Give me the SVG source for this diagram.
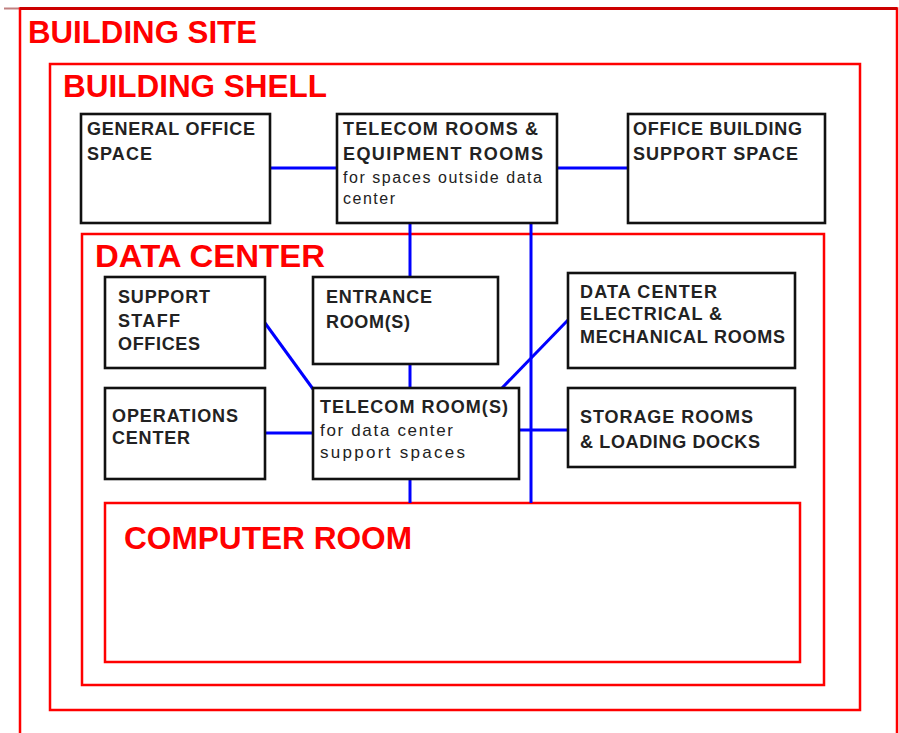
<svg xmlns="http://www.w3.org/2000/svg" width="899" height="733" viewBox="0 0 899 733">
<style>
.zone{fill:none;stroke:#ff0000;stroke-width:2.5}
.ztitle{font-family:"Liberation Sans",Arial,sans-serif;font-weight:bold;font-size:31px;fill:#ff0000}
.box{fill:#fff;stroke:#111;stroke-width:2.6}
.t{font-family:"Liberation Sans",Arial,sans-serif;font-weight:bold;font-size:18px;fill:#222}
.s{font-family:"Liberation Sans",Arial,sans-serif;font-size:16px;fill:#222}
.c{stroke:#0000ff;stroke-width:3;fill:none}
</style>
<rect width="899" height="733" fill="#fff"/>
<g id="building-site">
<line x1="4" y1="8.5" x2="20" y2="8.5" stroke="#c08080" stroke-width="2"/>
<path d="M20,740 V8.5 H897 V740" fill="none" stroke="#ff0000" stroke-width="2.5"/>
<line x1="20" y1="8.5" x2="897" y2="8.5" stroke="#cc0000" stroke-width="3"/>
<text class="ztitle" x="28" y="43" textLength="229" lengthAdjust="spacingAndGlyphs">BUILDING SITE</text>
</g>
<g id="building-shell">
<rect class="zone" x="50" y="64" width="810" height="646"/>
<text class="ztitle" x="63" y="97" textLength="264" lengthAdjust="spacingAndGlyphs">BUILDING SHELL</text>
</g>
<g id="data-center">
<rect class="zone" x="82" y="234" width="742" height="451"/>
<text class="ztitle" x="95" y="267" textLength="230" lengthAdjust="spacingAndGlyphs">DATA CENTER</text>
</g>
<g id="computer-room">
<rect class="zone" x="105" y="503" width="695" height="159"/>
<text class="ztitle" x="124" y="549" textLength="288" lengthAdjust="spacingAndGlyphs">COMPUTER ROOM</text>
</g>
<g id="connectors">
<line class="c" x1="270" y1="168" x2="337" y2="168"/>
<line class="c" x1="557" y1="168" x2="628" y2="168"/>
<line class="c" x1="410" y1="223" x2="410" y2="277"/>
<line class="c" x1="531" y1="223" x2="531" y2="503"/>
<line class="c" x1="265" y1="323" x2="313" y2="389"/>
<line class="c" x1="410" y1="364" x2="410" y2="388"/>
<line class="c" x1="568" y1="320" x2="502" y2="388"/>
<line class="c" x1="265" y1="433" x2="313" y2="433" stroke-width="4"/>
<line class="c" x1="519" y1="430" x2="568" y2="430"/>
<line class="c" x1="410" y1="479" x2="410" y2="503"/>
</g>
<g id="general-office-space">
<rect class="box" x="81" y="114" width="189" height="109"/>
<text class="t" x="87" y="135" textLength="168" lengthAdjust="spacing">GENERAL OFFICE</text>
<text class="t" x="87" y="160" textLength="65" lengthAdjust="spacing">SPACE</text>
</g>
<g id="telecom-rooms-equipment-rooms">
<rect class="box" x="337" y="114" width="220" height="109"/>
<text class="t" x="343" y="135" textLength="195" lengthAdjust="spacing">TELECOM ROOMS &amp;</text>
<text class="t" x="343" y="160" textLength="200" lengthAdjust="spacing">EQUIPMENT ROOMS</text>
<text class="s" x="343" y="183" textLength="199" lengthAdjust="spacing">for spaces outside data</text>
<text class="s" x="343" y="204" textLength="52" lengthAdjust="spacing">center</text>
</g>
<g id="office-building-support-space">
<rect class="box" x="628" y="114" width="197" height="109"/>
<text class="t" x="633" y="135" textLength="169" lengthAdjust="spacing">OFFICE BUILDING</text>
<text class="t" x="633" y="160" textLength="165" lengthAdjust="spacing">SUPPORT SPACE</text>
</g>
<g id="support-staff-offices">
<rect class="box" x="105" y="277" width="160" height="91"/>
<text class="t" x="118" y="303" textLength="92" lengthAdjust="spacing">SUPPORT</text>
<text class="t" x="118" y="327" textLength="62" lengthAdjust="spacing">STAFF</text>
<text class="t" x="118" y="350" textLength="82" lengthAdjust="spacing">OFFICES</text>
</g>
<g id="entrance-rooms">
<rect class="box" x="313" y="277" width="185" height="87"/>
<text class="t" x="326" y="303" textLength="106" lengthAdjust="spacing">ENTRANCE</text>
<text class="t" x="326" y="328" textLength="84" lengthAdjust="spacing">ROOM(S)</text>
</g>
<g id="dc-electrical-mechanical-rooms">
<rect class="box" x="568" y="273" width="227" height="95"/>
<text class="t" x="580" y="298" textLength="137" lengthAdjust="spacing">DATA CENTER</text>
<text class="t" x="580" y="320" textLength="142" lengthAdjust="spacing">ELECTRICAL &amp;</text>
<text class="t" x="580" y="343" textLength="205" lengthAdjust="spacing">MECHANICAL ROOMS</text>
</g>
<g id="operations-center">
<rect class="box" x="105" y="388" width="160" height="91"/>
<text class="t" x="112" y="422" textLength="126" lengthAdjust="spacing">OPERATIONS</text>
<text class="t" x="112" y="444" textLength="78" lengthAdjust="spacing">CENTER</text>
</g>
<g id="telecom-rooms-dc">
<rect class="box" x="313" y="388" width="206" height="91"/>
<text class="t" x="320" y="413" textLength="188" lengthAdjust="spacing">TELECOM ROOM(S)</text>
<text class="s" x="320" y="436" textLength="133" lengthAdjust="spacing" style="font-size:17px">for data center</text>
<text class="s" x="320" y="458" textLength="145" lengthAdjust="spacing" style="font-size:17px">support spaces</text>
</g>
<g id="storage-rooms-loading-docks">
<rect class="box" x="568" y="388" width="227" height="79"/>
<text class="t" x="580" y="423" textLength="173" lengthAdjust="spacing">STORAGE ROOMS</text>
<text class="t" x="580" y="448" textLength="180" lengthAdjust="spacing">&amp; LOADING DOCKS</text>
</g>
</svg>
